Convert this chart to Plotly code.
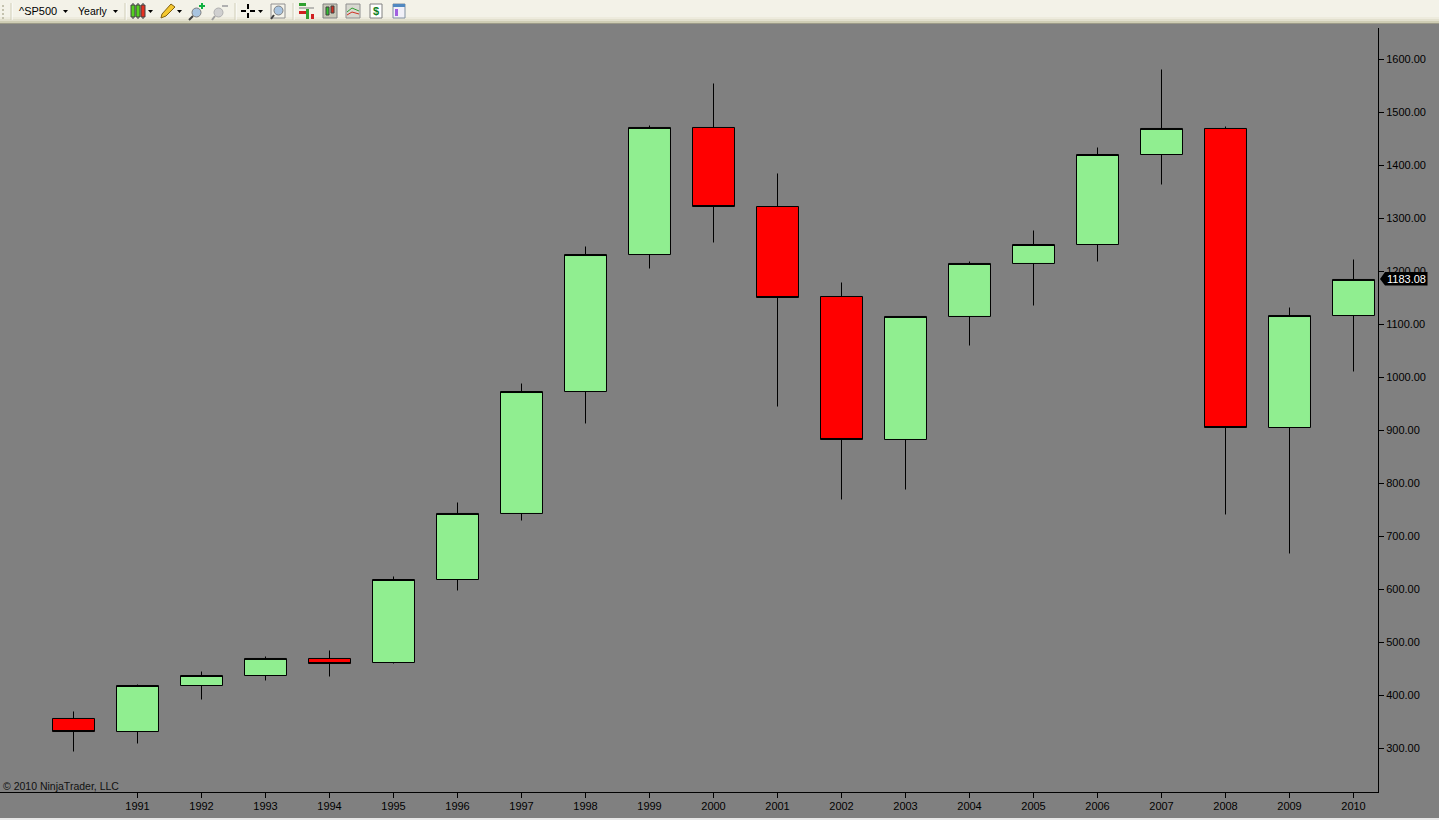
import plotly.graph_objects as go

W, H = 1439, 820

years = list(range(1990, 2011))
opens = [355.7, 331.1, 417.9, 436.8, 468.9, 461.3, 617.9, 742.5, 972.6, 1231.1, 1470.8, 1321.7, 1151.9, 882.1, 1114.2, 1214.2, 1250, 1419.8, 1468.9, 904.7, 1116]
highs = [368.9, 419.8, 444.3, 472.6, 484, 623.6, 763.2, 987.7, 1246.2, 1474.5, 1553.8, 1384, 1178.3, 1114.2, 1217.9, 1276.4, 1433, 1580.2, 1472.6, 1131.1, 1221.7]
lows = [293.4, 308.5, 391.5, 427.4, 434.9, 459.4, 597.2, 729.2, 912.3, 1204.7, 1253.8, 944.3, 768.9, 787.7, 1059.4, 1134.9, 1217.9, 1363.2, 740.6, 667, 1010.4]
closes = [331.1, 417.9, 436.8, 468.9, 459.4, 617.9, 742.5, 972.6, 1231.1, 1470.8, 1321.7, 1150, 882.1, 1114.2, 1214.2, 1250, 1419.8, 1468.9, 904.7, 1116, 1184]
last_price = 1183.08

year_ticks = list(range(1991, 2011))
price_ticks = list(range(300, 1601, 100))


def px(x):
    return x / W


def py(y):
    return 1 - y / H


shapes = []
annos = []


def rect(x0, y0, x1, y1, fill, line=None, lw=1):
    shapes.append(dict(type="rect", xref="paper", yref="paper", x0=px(x0), x1=px(x1), y0=py(y0), y1=py(y1),
                       fillcolor=fill, line=dict(color=line, width=lw if line else 0)))


def poly(points, fill, line=None, lw=1):
    path = "M" + " L".join(f"{px(a):.5f},{py(b):.5f}" for a, b in points) + " Z"
    shapes.append(dict(type="path", xref="paper", yref="paper", path=path, fillcolor=fill,
                       line=dict(color=line, width=lw if line else 0)))


def seg(x0, y0, x1, y1, color, lw=1):
    shapes.append(dict(type="line", xref="paper", yref="paper", x0=px(x0), x1=px(x1), y0=py(y0), y1=py(y1),
                       line=dict(color=color, width=lw)))


def circle(x0, y0, x1, y1, fill, line):
    shapes.append(dict(type="circle", xref="paper", yref="paper", x0=px(x0), x1=px(x1), y0=py(y1), y1=py(y0),
                       fillcolor=fill, line=dict(color=line, width=1)))


def dropdown(x, y=11):
    poly([(x, y - 1), (x + 5, y - 1), (x + 2.5, y + 2)], "#000000")


def text(x, y, s, color="#000000", size=11, anchor="left"):
    annos.append(dict(xref="paper", yref="paper", x=px(x), y=py(y), text=s, showarrow=False, borderpad=0,
                      xanchor=anchor, yanchor="middle", font=dict(family="Liberation Sans", size=size, color=color)))


# toolbar background
rect(0, 0, W, 17, "#F3F2E8")
rect(0, 17, W, 19, "#EDEBDD")
rect(0, 19, W, 21, "#E2E0CE")
rect(0, 21, W, 23, "#CFCDB4")
rect(0, 23, W, 24, "#9C9B88")

# grip and separators
for gy in (5, 9, 13, 17):
    rect(2, gy, 4, gy + 2, "#C4C2AE")
for sx in (12, 126, 236, 294):
    seg(sx, 3, sx, 20, "#FFFFFF", 1)
    seg(sx - 1, 3, sx - 1, 20, "#D0CEB8", 1)

text(18, 11, "^SP500")
dropdown(63)
text(77, 11, "Yearly", size=10.5)
dropdown(113)

# candle icon
for cx, col in ((133, "#55D020"), (138, "#55D020"), (143, "#E83020")):
    seg(cx, 3, cx, 19, "#303030", 1)
    rect(cx - 2, 5, cx + 2, 17, col, "#404040")
dropdown(148)

# pencil icon
poly([(161, 18), (162, 14), (171, 4), (175, 7), (166, 16)], "#F5C830", "#806010")
dropdown(177)

# zoom icons
circle(192, 8, 201, 17, "#A8C4E0", "#808080")
seg(193, 16, 189, 20, "#404040", 2)
rect(199, 5, 205, 7, "#10B040")
rect(201, 3, 203, 9, "#10B040")
circle(214, 8, 223, 17, "#D0D0D0", "#B0B0B0")
seg(215, 16, 212, 20, "#A0A0A0", 2)
rect(222, 5, 228, 7, "#B0B0B0")

# crosshair
seg(241, 11, 246, 11, "#000000", 2)
seg(250, 11, 255, 11, "#000000", 2)
seg(248, 4, 248, 9, "#000000", 2)
seg(248, 13, 248, 18, "#000000", 2)
dropdown(258)

# find icon
rect(271, 4, 285, 18, "#F4F3EA", "#909090")
circle(274, 6, 283, 15, "#A8C4E0", "#808080")
seg(274, 15, 271, 19, "#404040", 2)

# remaining toolbar buttons
rect(299, 3, 306, 6, "#30A030")
rect(299, 11, 306, 14, "#D02020")
seg(299, 8, 314, 8, "#808080")
rect(306, 9, 309, 19, "#30A030")
rect(311, 14, 314, 19, "#D02020")
rect(323, 4, 337, 18, "#C8C8B8", "#808080")
rect(326, 7, 329, 15, "#30C030", "#404040")
rect(331, 6, 334, 13, "#D03020", "#404040")
rect(346, 4, 360, 18, "#D8D8D0", "#909090")
seg(347, 12, 352, 8, "#30A030")
seg(352, 8, 359, 11, "#30A030")
seg(347, 15, 352, 12, "#D03020")
seg(352, 12, 359, 14, "#D03020")
rect(370, 4, 382, 18, "#FFFFFF", "#808080")
text(376, 11, "<b>$</b>", color="#108020", anchor="center")
rect(393, 4, 405, 18, "#F0F0F8", "#8090A0")
rect(393, 4, 405, 7, "#5088C0")
rect(395, 9, 398, 16, "#A060E0")

# bottom strip of the window
rect(0, 818, W, H, "#E8E8E8")

# last price marker
poly([(1380, 279), (1385, 272), (1427.5, 272), (1427.5, 285.5), (1385, 285.5)], "#000000")
text(1406, 279, f"{last_price:.2f}", color="#FFFFFF", anchor="center")

text(2, 786, "© 2010 NinjaTrader, LLC", color="#111111", size=10.5)

fig = go.Figure(go.Candlestick(
    x=years, open=opens, high=highs, low=lows, close=closes,
    increasing=dict(fillcolor="#90EE90", line=dict(color="#000000", width=1)),
    decreasing=dict(fillcolor="#FF0000", line=dict(color="#000000", width=1)),
    whiskerwidth=0,
))

fig.update_layout(
    width=W, height=H,
    margin=dict(l=0, r=0, t=0, b=0),
    paper_bgcolor="#808080", plot_bgcolor="#808080",
    font=dict(family="Liberation Sans", size=11, color="#000000"),
    showlegend=False,
    boxgap=0.344,
    boxgroupgap=0,
    shapes=shapes,
    annotations=annos,
    xaxis=dict(
        domain=[0, px(1378)], range=[1988.8516, 1988.8516 + 1378 / 64], rangeslider=dict(visible=False),
        tickmode="array", tickvals=year_ticks, ticktext=[str(v) for v in year_ticks],
        ticks="outside", ticklen=5, tickcolor="#000000", showgrid=False, zeroline=False,
        ticklabelstandoff=-1,
        showline=True, linecolor="#000000", linewidth=1, fixedrange=True,
    ),
    yaxis=dict(
        domain=[py(792), py(28)], range=[216.98, 1658.49], side="right",
        tickmode="array", tickvals=price_ticks, ticktext=[f"{v:.2f}" for v in price_ticks],
        ticks="outside", ticklen=5, tickcolor="#000000", showgrid=False, zeroline=False,
        showline=True, linecolor="#000000", linewidth=1, fixedrange=True,
    ),
)

fig.write_html("out.html", config=dict(displayModeBar=False),
               post_script="document.body.style.margin='0';document.body.style.overflow='hidden';")
